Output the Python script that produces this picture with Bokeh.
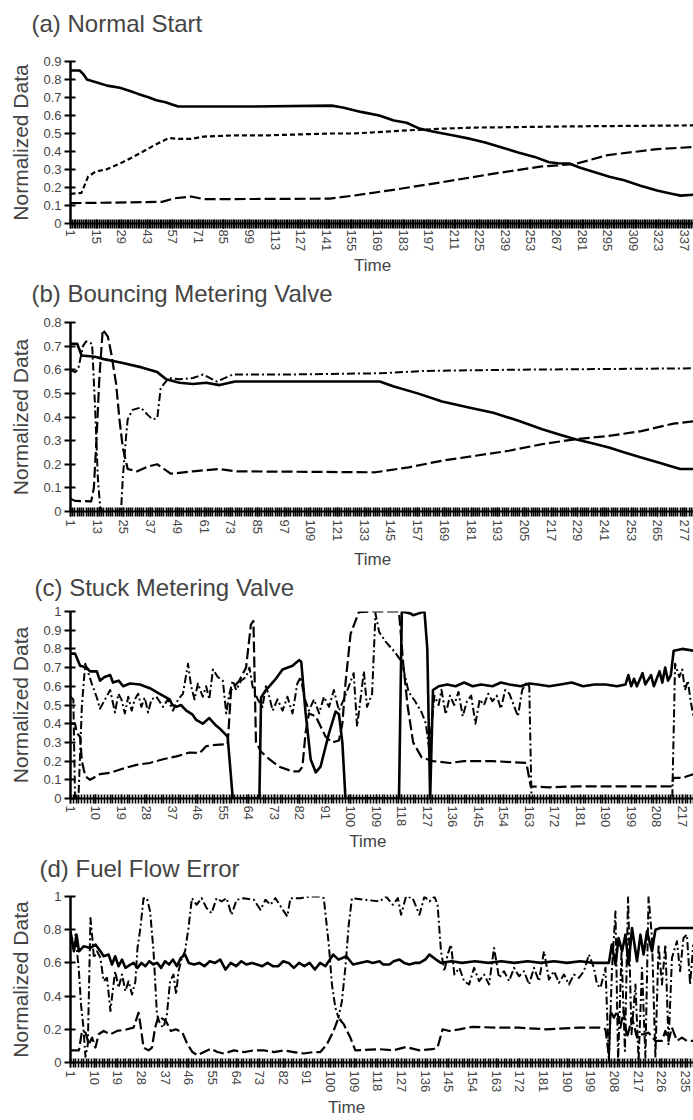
from bokeh.plotting import figure
from bokeh.layouts import column
from bokeh.models import FixedTicker, Range1d, CustomJSTickFormatter, LinearAxis
from bokeh.embed import file_html
from bokeh.resources import INLINE

# ---------------- data ----------------
# (a) Normal Start
a_solid_x = [1, 6, 8, 10, 15, 21, 28, 34, 38, 44, 48, 53, 57, 60, 100, 144, 150, 160, 170, 178, 185, 192, 200, 210, 220, 228, 238, 246, 255, 263, 268, 274, 280, 288, 296, 304, 313, 322, 330, 335, 342]
a_solid_y = [0.85, 0.85, 0.83, 0.80, 0.785, 0.766, 0.754, 0.735, 0.72, 0.70, 0.685, 0.674, 0.66, 0.65, 0.65, 0.655, 0.644, 0.62, 0.60, 0.572, 0.56, 0.527, 0.51, 0.49, 0.47, 0.45, 0.42, 0.395, 0.37, 0.34, 0.335, 0.333, 0.31, 0.285, 0.26, 0.24, 0.21, 0.183, 0.165, 0.155, 0.16]
a_short_x = [1, 7, 10.6, 15, 20.5, 29.5, 38.5, 46, 54.8, 60, 67, 74, 92, 110, 143, 156, 186.7, 204.8, 222.8, 280, 342]
a_short_y = [0.165, 0.17, 0.26, 0.29, 0.30, 0.34, 0.387, 0.43, 0.475, 0.47, 0.47, 0.483, 0.49, 0.49, 0.5, 0.5, 0.518, 0.527, 0.533, 0.54, 0.545]
a_long_x = [1, 51, 58, 67, 74, 143, 156, 177.7, 204.8, 231.9, 259, 277, 295, 322, 342]
a_long_y = [0.113, 0.12, 0.14, 0.15, 0.135, 0.138, 0.155, 0.187, 0.23, 0.276, 0.317, 0.33, 0.38, 0.413, 0.425]

# (b) Bouncing Metering Valve
b_solid_x = [1, 4, 6, 12, 16, 24, 33, 40, 44, 50, 56, 62, 68, 75, 140, 146, 157, 168, 180, 191, 202, 213, 221, 228, 235, 243, 250, 257.5, 266, 275, 281]
b_solid_y = [0.71, 0.71, 0.66, 0.655, 0.645, 0.63, 0.61, 0.59, 0.56, 0.545, 0.54, 0.545, 0.535, 0.55, 0.55, 0.53, 0.50, 0.466, 0.44, 0.418, 0.385, 0.348, 0.325, 0.306, 0.29, 0.271, 0.25, 0.229, 0.205, 0.18, 0.18]
b_long_x = [1, 3, 10.3, 11.5, 12.6, 14, 15.5, 17.8, 19.3, 21.5, 23, 24.5, 26.7, 31, 35.6, 40, 46, 56, 68, 75, 138, 153, 168, 183, 198, 213, 228, 243, 257.5, 272, 281]
b_long_y = [0.054, 0.045, 0.043, 0.10, 0.29, 0.57, 0.77, 0.74, 0.67, 0.54, 0.39, 0.27, 0.18, 0.17, 0.19, 0.2, 0.16, 0.17, 0.18, 0.17, 0.166, 0.187, 0.215, 0.236, 0.257, 0.285, 0.306, 0.32, 0.34, 0.372, 0.382]
b_dd_x = [1, 3, 4.4, 6.6, 8, 10.7, 12, 13.3, 14.5, 23.7, 24.5, 25.9, 26.7, 28.9, 32.6, 35.6, 37.8, 40, 41.5, 43, 45.2, 50, 56, 60.6, 66.8, 74, 100, 140, 160, 200, 281]
b_dd_y = [0.6, 0.59, 0.6, 0.70, 0.72, 0.71, 0.45, 0.14, 0.0, 0.0, 0.14, 0.31, 0.39, 0.43, 0.44, 0.41, 0.39, 0.395, 0.52, 0.54, 0.565, 0.56, 0.565, 0.58, 0.55, 0.58, 0.58, 0.585, 0.595, 0.6, 0.606]

# (c) Stuck Metering Valve
c_solid_x = [1, 2.6, 4.4, 6.7, 7.9, 10.3, 11.4, 13, 15, 16, 18, 19.6, 22, 25.5, 29, 32.5, 36, 37, 38.4, 40, 41.9, 44, 45.4, 47.7, 50, 52.4, 54, 55.9, 56.5, 58.3, 67.7, 68.3, 70, 73.5, 75.9, 79.4, 81.7, 82.5, 84, 85.8, 87.6, 89.3, 92.3, 94.6, 95.8, 97, 98.1, 117, 118, 121, 122, 124, 126, 127, 128, 129, 131, 134, 137, 140, 143, 146, 150, 153, 156, 160, 163, 166, 170, 174, 178, 182, 186, 190, 194, 197, 198, 199, 200, 201, 203, 204, 206, 207, 209, 210, 211, 212, 213, 214, 217, 221]
c_solid_y = [0.775, 0.775, 0.71, 0.70, 0.68, 0.68, 0.63, 0.65, 0.66, 0.62, 0.63, 0.60, 0.615, 0.61, 0.59, 0.56, 0.53, 0.50, 0.49, 0.50, 0.47, 0.45, 0.42, 0.40, 0.43, 0.39, 0.37, 0.34, 0.33, 0.0, 0.0, 0.54, 0.58, 0.64, 0.69, 0.71, 0.74, 0.73, 0.46, 0.21, 0.14, 0.17, 0.35, 0.465, 0.45, 0.30, 0.0, 0.0, 1.0, 0.99, 0.98, 0.99, 1.0, 0.8, 0.0, 0.58, 0.6, 0.61, 0.6, 0.62, 0.6, 0.61, 0.6, 0.62, 0.61, 0.6, 0.615, 0.61, 0.6, 0.61, 0.62, 0.6, 0.61, 0.61, 0.6, 0.61, 0.66, 0.6, 0.64, 0.6, 0.67, 0.61, 0.66, 0.6, 0.68, 0.62, 0.70, 0.63, 0.66, 0.79, 0.8, 0.79]
c_long_x = [1, 2.6, 3.2, 4.4, 5, 6.2, 7.9, 11.4, 15, 19.6, 24.3, 29, 33.7, 38.4, 43, 46.6, 48.9, 52.4, 56.5, 57.7, 60.6, 63, 64.7, 65.6, 66.5, 68.3, 71.2, 74.7, 79.4, 81.7, 82.9, 84, 85.2, 87.6, 91.1, 93.4, 95.8, 97, 98.1, 99.9, 102.8, 106.3, 117, 118.5, 120, 122, 125, 129, 135, 140, 150, 162, 163.5, 170, 180, 190, 200, 213, 214, 217, 219, 221]
c_long_y = [0.40, 0.40, 0.35, 0.33, 0.2, 0.12, 0.10, 0.13, 0.137, 0.16, 0.18, 0.19, 0.21, 0.225, 0.246, 0.243, 0.28, 0.287, 0.29, 0.58, 0.63, 0.70, 0.93, 0.95, 0.3, 0.25, 0.21, 0.17, 0.145, 0.145, 0.17, 0.35, 0.455, 0.44, 0.33, 0.30, 0.31, 0.4, 0.615, 0.88, 0.996, 1.0, 1.0, 0.72, 0.5, 0.3, 0.22, 0.2, 0.19, 0.2, 0.2, 0.19, 0.065, 0.06, 0.065, 0.065, 0.065, 0.065, 0.11, 0.11, 0.12, 0.13]
c_dd_x = [1, 2, 2.6, 3.8, 5, 6.2, 7.3, 8.5, 10.3, 11.4, 13.2, 15, 16.7, 17.9, 19, 20.2, 21.4, 22.6, 23.7, 24.9, 26, 27.2, 28.4, 29.6, 31.3, 33.7, 35.4, 37.2, 39, 40.7, 42.5, 43.6, 44.8, 46, 47.7, 48.9, 50, 51.3, 53, 54.8, 56, 57.1, 58.3, 59.5, 61.2, 63, 64.2, 65.3, 67.1, 68.8, 70, 71.2, 72.4, 74.1, 75.9, 77.6, 79.4, 81.1, 82.3, 83.5, 85.2, 87, 88.8, 90.5, 92.3, 94, 95.8, 97.5, 99.3, 101, 102.2, 103.4, 104.6, 105.7, 107.5, 108.7, 110, 112.2, 115.7, 118, 120.4, 122.7, 125, 126.5, 127.5, 128.5, 129.5, 131, 132, 133.5, 135, 136.5, 138, 139.5, 141, 142.5, 144, 145.5, 147, 148.5, 150, 151.5, 153, 154.5, 156, 157.5, 159, 160.5, 162, 163, 163.8, 213.5, 214.5, 216, 217, 218, 219, 220, 221]
c_dd_y = [0.544, 0.53, 0.0, 0.0, 0.49, 0.72, 0.67, 0.615, 0.54, 0.48, 0.53, 0.58, 0.46, 0.56, 0.53, 0.455, 0.544, 0.47, 0.53, 0.56, 0.49, 0.54, 0.46, 0.53, 0.545, 0.49, 0.53, 0.47, 0.53, 0.56, 0.72, 0.6, 0.53, 0.615, 0.544, 0.6, 0.53, 0.69, 0.65, 0.63, 0.455, 0.56, 0.63, 0.58, 0.63, 0.65, 0.70, 0.6, 0.53, 0.49, 0.6, 0.544, 0.47, 0.53, 0.47, 0.544, 0.455, 0.615, 0.65, 0.544, 0.47, 0.53, 0.455, 0.544, 0.49, 0.58, 0.47, 0.53, 0.6, 0.67, 0.385, 0.53, 0.68, 0.49, 0.56, 0.99, 0.89, 0.84, 0.78, 0.73, 0.57, 0.52, 0.46, 0.40, 0.28, 0.38, 0.55, 0.5, 0.58, 0.45, 0.55, 0.5, 0.57, 0.44, 0.52, 0.55, 0.40, 0.53, 0.5, 0.56, 0.52, 0.55, 0.48, 0.58, 0.56, 0.5, 0.44, 0.58, 0.62, 0.6, 0.0, 0.0, 0.72, 0.65, 0.69, 0.58, 0.63, 0.52, 0.44]

# (d) Fuel Flow Error
d_solid_x = [1, 2.3, 3.3, 4.2, 6, 8.6, 10.5, 12.4, 13.6, 15.5, 16.8, 18, 19.3, 20.6, 21.9, 23.8, 25, 26.5, 28, 29.5, 31, 32.5, 34, 35.5, 37, 38.5, 40, 41.5, 43, 44.6, 46, 48, 50, 52, 54, 56, 58, 60, 62, 64, 66, 68, 70, 72, 74, 76, 78, 80, 82, 84, 86, 88, 90, 92, 94, 96, 98, 101, 103, 106, 108.5, 111, 114, 116, 118.6, 120, 122.4, 124, 126.2, 128, 130, 132, 133.8, 136, 137.6, 140.1, 142, 146, 150, 155, 160, 165, 170, 175, 180, 185, 190, 195, 200, 205.9, 207, 208.4, 209.6, 210.9, 212.2, 213.4, 214.7, 216.6, 217.9, 219.1, 220.4, 222.3, 223.6, 225.5, 238]
d_solid_y = [0.79, 0.67, 0.77, 0.67, 0.70, 0.69, 0.71, 0.67, 0.64, 0.65, 0.59, 0.64, 0.58, 0.62, 0.57, 0.59, 0.60, 0.57, 0.6, 0.58, 0.61, 0.59, 0.6, 0.57, 0.61, 0.59, 0.62, 0.58, 0.63, 0.65, 0.6, 0.59, 0.6, 0.58, 0.61, 0.6, 0.62, 0.56, 0.6, 0.58, 0.61, 0.59, 0.6, 0.59, 0.58, 0.6, 0.58, 0.58, 0.61, 0.6, 0.57, 0.6, 0.58, 0.6, 0.56, 0.6, 0.58, 0.65, 0.62, 0.64, 0.59, 0.6, 0.61, 0.6, 0.61, 0.59, 0.59, 0.61, 0.62, 0.6, 0.59, 0.6, 0.6, 0.62, 0.65, 0.62, 0.6, 0.61, 0.6, 0.61, 0.6, 0.61, 0.6, 0.61, 0.6, 0.61, 0.6, 0.61, 0.6, 0.6, 0.71, 0.59, 0.75, 0.67, 0.77, 0.59, 0.81, 0.61, 0.77, 0.65, 0.79, 0.67, 0.80, 0.81, 0.81]
d_long_x = [1, 4.2, 5.4, 6.7, 8, 9.2, 10.5, 11.7, 13.6, 16.2, 18.7, 22.5, 25, 26.9, 27.6, 28.8, 30.7, 32, 33.2, 34.5, 35.4, 37.3, 39.2, 41.1, 43.6, 45.5, 47.4, 49.3, 51.8, 54.4, 56.9, 59.4, 63.2, 67, 70.8, 74.6, 78.4, 82.2, 86, 89.8, 93.6, 96.1, 98.6, 101.1, 103, 105, 107.5, 109.4, 118.6, 123.7, 128.7, 133.8, 138.8, 140.7, 142.6, 145.2, 149, 154, 162.9, 171.7, 181.8, 194.5, 203.3, 204.6, 205.9, 206.5, 207.8, 209, 210.3, 211.5, 212.8, 214.7, 216.6, 217.9, 219.1, 221, 223.6, 226.1, 227.4, 228.6, 229.9, 231.8, 233.7, 235.6, 238]
d_long_y = [0.073, 0.073, 0.19, 0.18, 0.11, 0.15, 0.09, 0.17, 0.19, 0.17, 0.19, 0.2, 0.21, 0.30, 0.23, 0.09, 0.073, 0.09, 0.21, 0.28, 0.27, 0.25, 0.19, 0.2, 0.18, 0.11, 0.063, 0.044, 0.063, 0.083, 0.063, 0.054, 0.073, 0.063, 0.073, 0.073, 0.063, 0.073, 0.063, 0.054, 0.063, 0.063, 0.11, 0.19, 0.27, 0.23, 0.15, 0.073, 0.08, 0.073, 0.093, 0.073, 0.08, 0.09, 0.2, 0.19, 0.2, 0.215, 0.21, 0.21, 0.2, 0.21, 0.21, 0.2, 0.04, 0.31, 0.27, 0.31, 0.21, 0.31, 0.15, 0.27, 0.15, 0.17, 0.17, 0.18, 0.13, 0.13, 0.19, 0.13, 0.21, 0.13, 0.15, 0.13, 0.13]
d_dd_x = [1, 1.6, 2.9, 4.2, 5, 5.8, 6.7, 7.6, 8.6, 9.2, 9.9, 11.1, 12.4, 13.6, 14.9, 16.2, 17.2, 18, 19.3, 20.6, 21.9, 23.1, 24.4, 25.7, 26.5, 27.6, 28.8, 30.1, 31.3, 32.6, 33.9, 35.1, 36.4, 37.7, 38.9, 40.2, 41.2, 42.1, 43.4, 44.6, 45.9, 47.2, 49, 50.9, 52.8, 54.7, 56.6, 58.5, 60.4, 62.3, 64.2, 67, 70.8, 73.3, 75.2, 77.1, 79, 82.2, 83.5, 84.7, 88.5, 92.3, 96.1, 97.4, 99.3, 100.5, 101.8, 103, 104.3, 105.6, 106.9, 108.1, 118.6, 121.1, 123.7, 125.6, 126.8, 128.7, 131.2, 133.8, 135.7, 137.6, 139.5, 140.7, 142, 143.3, 144.5, 145.8, 147.1, 149, 150.8, 152.7, 154.6, 156.5, 158.4, 160.3, 162.2, 164.1, 166, 167.9, 169.8, 171.7, 173.6, 175.5, 177.4, 179.3, 181.2, 183.1, 185, 186.9, 188.8, 190.7, 192.6, 194.5, 196.4, 198.3, 200.2, 201.4, 202.7, 204.6, 205.9, 207.1, 208.4, 209.4, 210.7, 212, 213.2, 214.5, 216, 217.2, 218.5, 219.8, 221, 222.3, 223.6, 224.8, 226.1, 227.4, 228.6, 229.9, 231.8, 233, 234.3, 235.6, 236.8, 238]
d_dd_y = [0.71, 0.75, 0.77, 0.55, 0.35, 0.23, 0.034, 0.11, 0.87, 0.77, 0.63, 0.67, 0.63, 0.49, 0.51, 0.31, 0.45, 0.55, 0.45, 0.53, 0.43, 0.49, 0.41, 0.49, 0.69, 0.81, 0.99, 0.99, 0.91, 0.67, 0.29, 0.23, 0.21, 0.29, 0.49, 0.53, 0.41, 0.55, 0.63, 0.67, 0.81, 0.99, 0.95, 0.99, 0.93, 0.9, 0.99, 0.97, 0.99, 0.89, 0.98, 0.99, 0.98, 0.92, 0.98, 0.95, 0.99, 0.91, 0.88, 0.99, 0.99, 1.0, 1.0, 0.99, 0.71, 0.47, 0.33, 0.27, 0.37, 0.57, 0.83, 0.99, 0.97, 1.0, 0.95, 0.99, 0.89, 1.0, 0.99, 0.89, 1.0, 0.97, 1.0, 0.95, 0.67, 0.55, 0.65, 0.71, 0.53, 0.57, 0.49, 0.47, 0.57, 0.49, 0.53, 0.47, 0.69, 0.51, 0.55, 0.49, 0.57, 0.52, 0.55, 0.47, 0.57, 0.49, 0.67, 0.5, 0.55, 0.48, 0.53, 0.47, 0.53, 0.51, 0.55, 0.65, 0.57, 0.47, 0.45, 0.57, 0.01, 0.57, 0.91, 0.01, 0.67, 0.07, 1.0, 0.17, 0.47, 0.01, 0.57, 0.03, 1.0, 0.75, 0.03, 0.71, 0.47, 0.71, 0.11, 0.63, 0.73, 0.55, 0.75, 0.77, 0.47, 0.71]

# axis ticks / labels
a_xticks = list(range(1, 338, 14))
b_xticks = list(range(1, 278, 12))
c_xticks = list(range(1, 218, 9))
d_xticks = list(range(1, 236, 9))
a_yticks = [0, 0.1, 0.2, 0.3, 0.4, 0.5, 0.6, 0.7, 0.8, 0.9]
b_yticks = [0, 0.1, 0.2, 0.3, 0.4, 0.5, 0.6, 0.7, 0.8]
c_yticks = [0, 0.1, 0.2, 0.3, 0.4, 0.5, 0.6, 0.7, 0.8, 0.9, 1]
d_yticks = [0, 0.2, 0.4, 0.6, 0.8, 1]
titles = ["(a) Normal Start", "(b) Bouncing Metering Valve", "(c) Stuck Metering Valve", "(d) Fuel Flow Error"]

FONT = "Liberation Sans"
STYLES = {
    "solid": dict(line_width=2.6, line_dash="solid"),
    "short": dict(line_width=2.2, line_dash="5 3"),
    "long": dict(line_width=2.2, line_dash="11 4"),
    "dd": dict(line_width=2.0, line_dash="8 3 2 3"),
}

fmt = CustomJSTickFormatter(code="""
if (Math.abs(tick) < 1e-9) return '0';
if (Math.abs(tick - 1) < 1e-9) return '1';
return tick.toFixed(1);
""")
blank = CustomJSTickFormatter(code="return '';")


def panel(title, height, top, bottom, left, xr, yr, xticks, yticks, series, title_x, spacer,
          time_pad, time_standoff, label_standoff):
    p = figure(width=693, height=height, x_range=Range1d(*xr), y_range=Range1d(*yr),
               output_backend="svg", toolbar_location=None,
               min_border_left=left, min_border_right=0, min_border_top=top,
               min_border_bottom=bottom)
    p.outline_line_color = None
    p.background_fill_color = "white"
    p.border_fill_color = "white"
    p.xgrid.visible = False
    p.ygrid.visible = False

    p.title.text = title
    p.title.text_font = FONT
    p.title.text_font_size = "24px"
    p.title.text_font_style = "normal"
    p.title.align = "left"
    p.title.vertical_align = "top"
    p.title.offset = title_x - left
    p.title.standoff = 0

    xa = p.below[0]
    xa.ticker = FixedTicker(ticks=xticks, minor_ticks=list(range(1, int(xr[1]) + 1)))
    xa.major_label_orientation = "vertical"
    xa.major_label_text_font = FONT
    xa.major_label_text_font_size = "13px"
    xa.major_label_standoff = label_standoff
    xa.axis_line_width = 2
    xa.major_tick_in = 4
    xa.major_tick_out = 5
    xa.minor_tick_in = 4
    xa.minor_tick_out = 5
    xa.major_tick_line_width = 1.6
    xa.minor_tick_line_width = 1.6
    xa.axis_label = "Time" + "\u00a0" * time_pad
    xa.axis_label_text_font = FONT
    xa.axis_label_text_font_size = "17px"
    xa.axis_label_text_font_style = "normal"
    xa.axis_label_standoff = time_standoff

    ya = p.left[0]
    ya.ticker = FixedTicker(ticks=yticks, minor_ticks=[])
    ya.formatter = fmt
    ya.major_label_text_font = FONT
    ya.major_label_text_font_size = "13px"
    ya.major_label_standoff = 3
    ya.axis_line_width = 2.5
    ya.major_tick_in = 5
    ya.major_tick_out = 6
    ya.major_tick_line_width = 2
    ya.axis_label = "Normalized Data"
    ya.axis_label_text_font = FONT
    ya.axis_label_text_font_size = "21px"
    ya.axis_label_text_font_style = "normal"
    ya.axis_label_standoff = 8

    # invisible spacer between the title and the frame (one hidden tick, blank label)
    gap = LinearAxis(ticker=FixedTicker(ticks=[xr[0] + 1], minor_ticks=[]), formatter=blank,
                     major_tick_in=0, major_tick_out=spacer, major_label_standoff=0,
                     major_label_text_font_size="0px", axis_line_color=None,
                     major_tick_line_color=None, minor_tick_line_color=None,
                     minor_tick_out=0, minor_tick_in=0)
    p.add_layout(gap, "above")

    for xs, ys, style in series:
        p.line(xs, ys, line_color="black", line_join="round", **STYLES[style])
    return p


pa = panel(titles[0], 279, 61, 56, 64, (1, 342), (0, 0.9), a_xticks, a_yticks,
           [(a_long_x, a_long_y, "long"), (a_short_x, a_short_y, "short"), (a_solid_x, a_solid_y, "solid")],
           25, 23, 4, 2, 1)
pb = panel(titles[1], 293, 43, 59, 64, (1, 281), (0, 0.8), b_xticks, b_yticks,
           [(b_long_x, b_long_y, "long"), (b_dd_x, b_dd_y, "dd"), (b_solid_x, b_solid_y, "solid")],
           25, 14, 4, 6, 3)
pc = panel(titles[2], 282, 39, 55, 67, (1, 221), (0, 1), c_xticks, c_yticks,
           [(c_long_x, c_long_y, "long"), (c_dd_x, c_dd_y, "dd"), (c_solid_x, c_solid_y, "solid")],
           31, 9, 6, 2, 2)
pd = panel(titles[3], 266, 42, 56, 70, (1, 238.1), (0, 1), d_xticks, d_yticks,
           [(d_long_x, d_long_y, "long"), (d_dd_x, d_dd_y, "dd"), (d_solid_x, d_solid_y, "solid")],
           39, 13, 15, 3, 3)

layout = column(pa, pb, pc, pd, spacing=0)
open("out.html", "w").write(file_html(layout, INLINE))
